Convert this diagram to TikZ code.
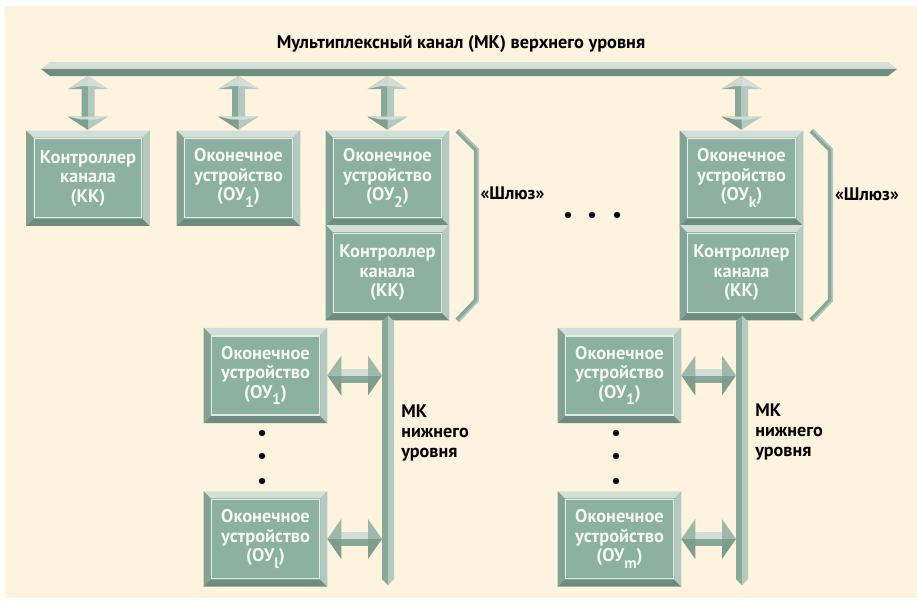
\documentclass[tikz,border=0pt]{standalone}
\usepackage{fontspec}
\setmainfont{PT Sans}
\usetikzlibrary{calc}
\definecolor{cream}{HTML}{FEF3DF}
\definecolor{face}{HTML}{8CB0A2}
\definecolor{bevT}{HTML}{D2DED8}
\definecolor{bevL}{HTML}{82A293}
\definecolor{bevR}{HTML}{B4CABF}
\definecolor{bevB}{HTML}{6E8B7F}
\definecolor{inl}{HTML}{E2EBE6}
\definecolor{busT}{HTML}{D3DED8}
\definecolor{busB}{HTML}{6F8C80}
\definecolor{arD}{HTML}{88A89A}
\definecolor{arL}{HTML}{B4CABF}
\definecolor{arH}{HTML}{CDDAD3}
\definecolor{arM}{HTML}{9DB9AC}
\definecolor{arK}{HTML}{7E9D8F}
\definecolor{txtw}{HTML}{F4F8F6}
\newcommand\lowidx[1]{\raisebox{-0.75ex}{\fontsize{11.5}{10}\selectfont #1}}
\tikzset{
  boxface/.style={rectangle, fill=face, minimum width=92.25pt, minimum height=70.9pt,
    inner sep=0pt, text=txtw, align=center, font=\bfseries\fontsize{13.8}{14.6}\selectfont},
  lbl/.style={inner sep=0pt, text=black, font=\bfseries\fontsize{13.6}{15}\selectfont},
  ttl/.style={inner sep=0pt, text=black, font=\bfseries\fontsize{13.7}{15}\selectfont},
  brk/.style={line width=3.75pt, draw=arD, line join=miter},
  brkl/.style={line width=1.2pt, draw=arL, line join=miter},
}
\newcommand\bevel[1]{%
  \fill[bevT] (#1.north west) -- (#1.north east) -- ($(#1.north east)+(-7,7)$) -- ($(#1.north west)+(7,7)$) -- cycle;
  \fill[bevB] (#1.south west) -- (#1.south east) -- ($(#1.south east)+(-7,-7)$) -- ($(#1.south west)+(7,-7)$) -- cycle;
  \fill[bevL] (#1.north west) -- ($(#1.north west)+(7,7)$) -- ($(#1.south west)+(7,-7)$) -- (#1.south west) -- cycle;
  \fill[bevR] (#1.north east) -- ($(#1.north east)+(-7,7)$) -- ($(#1.south east)+(-7,-7)$) -- (#1.south east) -- cycle;
  \draw[inl, line width=0.9pt] ($(#1.north west)+(8,8)$) rectangle ($(#1.south east)+(-8,-8)$);
}
% vertical double arrow from #1 (top) to #2 (bottom)
\newcommand\vdarrow[2]{%
  \fill[arD] (#1) -- ($(#1)+(-20,13)$) -- ($(#1)+(-6.5,13)$) -- ($(#2)+(-6.5,-13)$) -- ($(#2)+(-20,-13)$) -- (#2) -- cycle;
  \fill[arL] (#1) -- ($(#1)+(20,13)$) -- ($(#1)+(6.5,13)$) -- ($(#2)+(6.5,-13)$) -- ($(#2)+(20,-13)$) -- (#2) -- cycle;
  \fill[arH] (#1) -- ($(#1)+(-20,13)$) -- ($(#1)+(-6.5,10)$) -- ($(#1)+(0,10)$) -- cycle;
  \fill[bevT] (#1) -- ($(#1)+(20,13)$) -- ($(#1)+(6.5,10)$) -- ($(#1)+(0,10)$) -- cycle;
  \fill[bevT] ($(#2)+(-20,-13)$) -- ($(#2)+(20,-13)$) -- ($(#2)+(6.5,-10)$) -- ($(#2)+(-6.5,-10)$) -- cycle;
  \fill[arK] ($(#2)+(-6.5,-10)$) -- ($(#2)+(0,-10)$) -- (#2) -- ($(#2)+(-20,-13)$) -- cycle;
}
% horizontal double arrow from #1 (left) to #2 (right)
\newcommand\hdarrow[2]{%
  \fill[busT] ($(#1)+(14,-7)$) rectangle ($(#2)+(-14,0)$);
  \fill[arD] ($(#1)+(14,0)$) rectangle ($(#2)+(-14,7)$);
  \fill[arM] (#1) -- ($(#1)+(14,-20)$) -- ($(#1)+(14,0)$) -- cycle;
  \fill[arK] (#1) -- ($(#1)+(14,20)$) -- ($(#1)+(14,0)$) -- cycle;
  \fill[arM] (#2) -- ($(#2)+(-14,-20)$) -- ($(#2)+(-14,0)$) -- cycle;
  \fill[arK] (#2) -- ($(#2)+(-14,20)$) -- ($(#2)+(-14,0)$) -- cycle;
}
% vertical bus from #1 (top) to #2 (bottom)
\newcommand\vbus[2]{%
  \fill[arD] (#1) -- ($(#1)+(-6,6)$) -- ($(#2)+(-6,-6)$) -- (#2) -- cycle;
  \fill[arL] (#1) -- ($(#1)+(6,6)$) -- ($(#2)+(6,-6)$) -- (#2) -- cycle;
}
\begin{document}
\begin{tikzpicture}[x=0.75pt,y=-0.75pt]
\useasboundingbox (0,0) rectangle (917,608);
\fill[white] (0,0) rectangle (917,608);
\fill[cream] (5,6) rectangle (917,598);

% title and upper bus
\node[ttl] (title) at (461,44) {Мультиплексный канал (МК) верхнего уровня};
\coordinate (busL) at (41,69);
\coordinate (busR) at (897,69);
\fill[busT] (busL) -- ($(busL)+(9,-7)$) -- ($(busR)+(-9,-7)$) -- (busR) -- cycle;
\fill[busB] (busL) -- ($(busL)+(9,7)$) -- ($(busR)+(-9,7)$) -- (busR) -- cycle;
\coordinate (busbot) at (41,76);

% upper boxes
\node[boxface] (b1) at (88,178.25) {Контроллер\\канала\\(КК)};
\node[boxface] (b2) at (238.5,178.25) {Оконечное\\устройство\\(ОУ\lowidx{1})};
\node[boxface] (b3) at (387.5,178.25) {Оконечное\\устройство\\(ОУ\lowidx{2})};
\node[boxface] (b3k) at (387.5,272.75) {Контроллер\\канала\\(КК)};
\node[boxface] (bk) at (741.5,178.25) {Оконечное\\устройство\\(ОУ\lowidx{k})};
\node[boxface] (bkk) at (741.5,272.75) {Контроллер\\канала\\(КК)};
\foreach \n in {b1,b2,b3,b3k,bk,bkk} {\bevel{\n}}

% arrows from the upper bus
\foreach \n in {b1,b2,b3,bk} {
  \vdarrow{\n.north |- busbot}{$(\n.north)+(0,-1)$}
}

% brackets and gateway labels
\draw[brk] ($(b3.north east)+(8,0)$) -- ($(b3.north east)+(27,19)$) -- ($(b3k.south east)+(27,-20)$) -- ($(b3k.south east)+(8,0)$);
\draw[brkl] ($(b3.north east)+(10,-0.5)$) -- ($(b3.north east)+(29,18.5)$) -- ($(b3k.south east)+(29,-19.5)$) -- ($(b3k.south east)+(10,0.5)$);
\draw[brk] ($(bk.north east)+(8,0)$) -- ($(bk.north east)+(27,19)$) -- ($(bkk.south east)+(27,-20)$) -- ($(bkk.south east)+(8,0)$);
\draw[brkl] ($(bk.north east)+(10,-0.5)$) -- ($(bk.north east)+(29,18.5)$) -- ($(bkk.south east)+(29,-19.5)$) -- ($(bkk.south east)+(10,0.5)$);
\node[lbl] (gw1) at (512.5,193) {«Шлюз»};
\node[lbl] (gw2) at (867,194) {«Шлюз»};

% horizontal dots
\fill (568,215) circle (3.2);
\fill (592,215) circle (3.2);
\fill (617,215) circle (3.2);

% lower boxes
\node[boxface] (l1) at (265.5,375.5) {Оконечное\\устройство\\(ОУ\lowidx{1})};
\node[boxface] (ll) at (265.5,539) {Оконечное\\устройство\\(ОУ\lowidx{l})};
\node[boxface] (r1) at (619.5,375.5) {Оконечное\\устройство\\(ОУ\lowidx{1})};
\node[boxface] (rm) at (619.5,539) {Оконечное\\устройство\\(ОУ\lowidx{m})};
\foreach \n in {l1,ll,r1,rm} {\bevel{\n}}

% lower buses
\coordinate (lbT) at ($(b3k.south)+(0.5,-5)$);
\coordinate (lbB) at (388,585);
\coordinate (rbT) at ($(bkk.south)+(0.5,-5)$);
\coordinate (rbB) at (742,585);
\vbus{lbT}{lbB}
\vbus{rbT}{rbB}

% arrows to lower buses
\hdarrow{l1.east}{$(l1.east -| lbT)+(-6,0)$}
\hdarrow{ll.east}{$(ll.east -| lbT)+(-6,0)$}
\hdarrow{r1.east}{$(r1.east -| rbT)+(-6,0)$}
\hdarrow{rm.east}{$(rm.east -| rbT)+(-6,0)$}

% vertical dots
\foreach \yy in {433,456,481} {
  \fill (262,\yy) circle (3.2);
  \fill (616,\yy) circle (3.2);
}

% lower bus labels
\node[lbl, anchor=west, align=left] (mk1) at (401,433) {МК\\нижнего\\уровня};
\node[lbl, anchor=west, align=left] (mk2) at (755,432) {МК\\нижнего\\уровня};
\end{tikzpicture}
\end{document}
